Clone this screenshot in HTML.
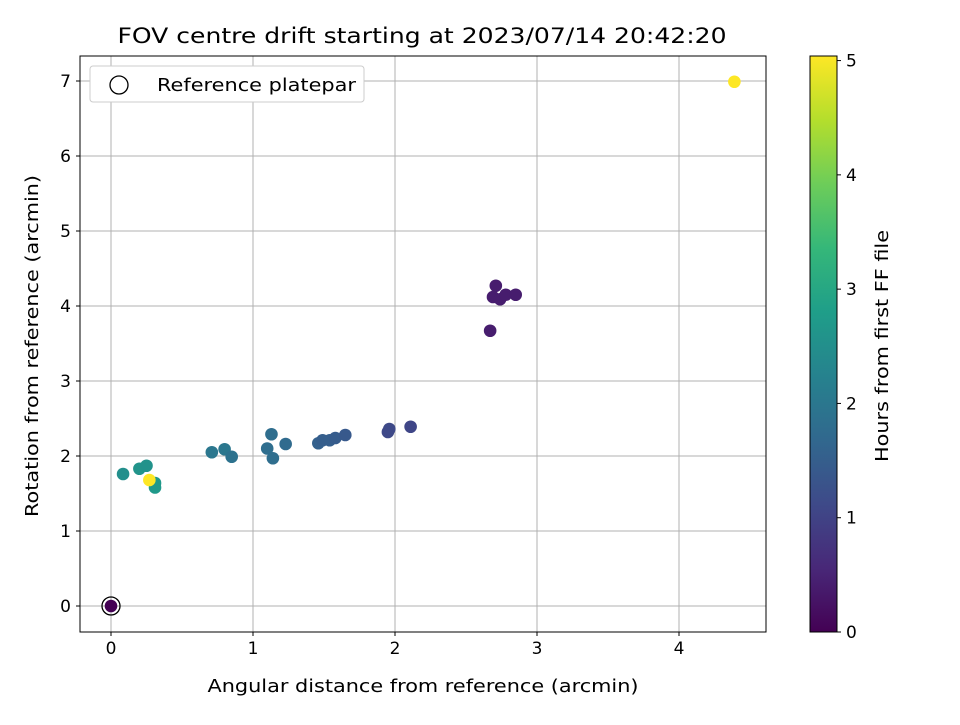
<!DOCTYPE html>
<html><head><meta charset="utf-8"><style>
body{margin:0;background:#fff;font-family:"Liberation Sans","DejaVu Sans",sans-serif}
text{font-family:"DejaVu Sans","Liberation Sans",sans-serif}
</style></head><body>
<svg id="c" width="960" height="720" viewBox="0 0 960 720"></svg>
<script>
const xs=[0,0.085,0.20,0.25,0.31,0.31,0.27,0.71,0.80,0.85,1.10,1.13,1.23,1.14,1.46,1.49,1.54,1.58,1.65,1.95,1.96,2.11,2.67,2.71,2.69,2.74,2.78,2.85,4.39];
const ys=[0,1.76,1.83,1.87,1.64,1.58,1.68,2.05,2.09,1.99,2.10,2.29,2.16,1.97,2.17,2.21,2.21,2.24,2.28,2.32,2.36,2.39,3.67,4.27,4.12,4.09,4.15,4.15,6.99];
const hrs=[0,2.5,2.6,2.55,2.7,2.7,5.04,2.0,2.0,1.9,1.8,1.8,1.75,1.8,1.55,1.5,1.5,1.45,1.4,1.1,1.1,1.05,0.4,0.4,0.4,0.4,0.4,0.4,5.04];
const xTicks=[0,1,2,3,4], yTicks=[0,1,2,3,4,5,6,7], cTicks=[0,1,2,3,4,5];
const NS="http://www.w3.org/2000/svg",svg=document.getElementById('c');
function el(t,a,p){const e=document.createElementNS(NS,t);for(const k in a)e.setAttribute(k,a[k]);(p||svg).appendChild(e);return e;}
const L=80,R=766,T=56,B=632;
const sx=v=>111+v*142, sy=v=>606-v*75;
const vir=[[68,1,84],[72,40,120],[62,74,137],[49,104,142],[38,130,142],[31,158,137],[53,183,121],[109,205,89],[180,222,44],[253,231,37]];
function col(t){t=Math.max(0,Math.min(1,t))*9;const i=Math.min(8,Math.floor(t)),f=t-i;const a=vir[i],b=vir[i+1];return `rgb(${a.map((v,k)=>Math.round(v+(b[k]-v)*f)).join(',')})`;}
const hmax=5.04;
const LA={lengthAdjust:'spacingAndGlyphs'};
let t=el('text',{x:422,y:43,'text-anchor':'middle','font-size':'21',textLength:609,...LA});t.textContent='FOV centre drift starting at 2023/07/14 20:42:20';

const grid=el('g',{});
xTicks.forEach(v=>{el('line',{x1:sx(v),x2:sx(v),y1:T,y2:B,stroke:'#b0b0b0','stroke-width':1},grid);el('line',{x1:sx(v),x2:sx(v),y1:B,y2:B+4,stroke:'#000'});const tx=el('text',{x:sx(v),y:B+22,'text-anchor':'middle','font-size':'17'});tx.textContent=v;});
yTicks.forEach(v=>{el('line',{x1:L,x2:R,y1:sy(v),y2:sy(v),stroke:'#b0b0b0','stroke-width':1},grid);el('line',{x1:L-4,x2:L,y1:sy(v),y2:sy(v),stroke:'#000'});const tx=el('text',{x:L-9,y:sy(v)+6,'text-anchor':'end','font-size':'17'});tx.textContent=v;});
const pts=el('g',{});
xs.forEach((x,i)=>{const c=el('circle',{cx:sx(x),cy:sy(ys[i]),r:6.3,fill:col(hrs[i]/hmax)},pts);});
let rp=el('circle',{cx:sx(0),cy:sy(0),r:9,fill:'none',stroke:'#000','stroke-width':1.3});
let fr=el('rect',{x:L,y:T,width:R-L,height:B-T,fill:'none',stroke:'#000','stroke-width':1});
let xl=el('text',{x:423,y:692,'text-anchor':'middle','font-size':'17.5',textLength:431,...LA});xl.textContent='Angular distance from reference (arcmin)';
let yl=el('text',{x:38,y:346,'text-anchor':'middle','font-size':'17.5',textLength:342,...LA,transform:'rotate(-90 38 346)'});yl.textContent='Rotation from reference (arcmin)';
const lg=el('g',{});
el('rect',{x:90,y:66,width:274,height:36,rx:3,fill:'#fff',stroke:'#ccc'},lg);
el('circle',{cx:119,cy:85,r:9,fill:'none',stroke:'#000','stroke-width':1.3},lg);
let lt=el('text',{x:157,y:91,'font-size':'17.5',textLength:199,...LA},lg);lt.textContent='Reference platepar';
const cb=el('g',{});
const defs=el('defs',{});const gr=el('linearGradient',{id:'vg',x1:0,y1:1,x2:0,y2:0},defs);
vir.forEach((c,i)=>el('stop',{offset:i/9,'stop-color':`rgb(${c})`},gr));
el('rect',{x:810,y:56,width:27,height:576,fill:'url(#vg)',stroke:'#000','stroke-width':1},cb);
cTicks.forEach(v=>{const y=632-v/hmax*576;el('line',{x1:837,x2:841,y1:y,y2:y,stroke:'#000'},cb);const tx=el('text',{x:846,y:y+6,'font-size':'17'},cb);tx.textContent=v;});
let cl=el('text',{x:888,y:346,'text-anchor':'middle','font-size':'17.5',textLength:232,...LA,transform:'rotate(-90 888 346)'});cl.textContent='Hours from first FF file';
</script></body></html>
